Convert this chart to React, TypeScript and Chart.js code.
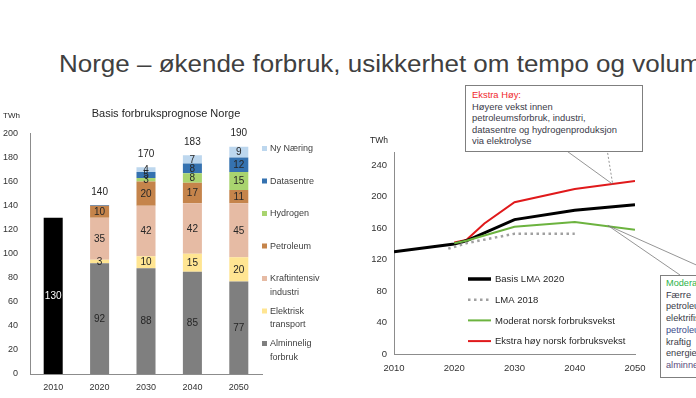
import React, { useEffect, useRef } from 'react';
import { Chart, registerables } from 'chart.js';

Chart.register(...registerables);

const FONT = '"Liberation Sans", Arial, sans-serif';

// ---------- Left chart: Basis forbruksprognose Norge ----------
const barYears = ['2010', '2020', '2030', '2040', '2050'];
const forbruk2010 = [130, null, null, null, null];
const alminneligForbruk = [null, 92, 88, 85, 77];
const elektriskTransport = [null, 3, 10, 15, 20];
const kraftintensivIndustri = [null, 35, 42, 42, 45];
const petroleum = [null, 10, 20, 17, 11];
const hydrogen = [null, null, 3, 8, 15];
const datasentre = [null, 0.6, 5, 8, 12];
const nyNaering = [null, null, 4, 7, 9];
const totalLabels = ['', '140', '170', '183', '190'];
const barTicks = [0, 20, 40, 60, 80, 100, 120, 140, 160, 180, 200];

const leftLegend = [
  { lines: ['Ny Næring'], color: '#bdd7ee' },
  { lines: ['Datasentre'], color: '#3572b0' },
  { lines: ['Hydrogen'], color: '#a9d46f' },
  { lines: ['Petroleum'], color: '#c5844b' },
  { lines: ['Kraftintensiv', 'industri'], color: '#e6bba4' },
  { lines: ['Elektrisk', 'transport'], color: '#ffe592' },
  { lines: ['Alminnelig', 'forbruk'], color: '#7f7f7f' },
];

// ---------- Right chart: scenarios ----------
const basisYears = [2010, 2020, 2022, 2030, 2040, 2050];
const basisLMA2020 = [130, 140, 144, 171, 183, 190];
const lma2018Years = [2019, 2022, 2030, 2040];
const lma2018 = [134, 141, 153, 153];
const moderatYears = [2020, 2022, 2030, 2040, 2050];
const moderatVekst = [141, 144, 162, 168, 158];
const ekstraYears = [2020, 2022, 2025, 2030, 2040, 2050];
const ekstraHoyVekst = [142, 145, 166, 193, 210, 220];
const lineYTicks = [0, 40, 80, 120, 160, 200, 240];

const toPoints = (xs: number[], ys: number[]) => xs.map((x, i) => ({ x, y: ys[i] }));

const leftPlugin = {
  id: 'leftDeco',
  afterDatasetsDraw(chart: any) {
    const ctx = chart.ctx;
    const ys = chart.scales.y;
    const xs = chart.scales.x;
    ctx.save();
    ctx.font = `10px ${FONT}`;
    ctx.textAlign = 'center';
    ctx.textBaseline = 'middle';
    chart.data.datasets.forEach((ds: any, di: number) => {
      const meta = chart.getDatasetMeta(di);
      meta.data.forEach((el: any, i: number) => {
        const v = ds.data[i];
        if (v == null || v < 1) return;
        const p = el.getProps(['x', 'y', 'base'], true);
        ctx.fillStyle = di === 0 ? '#ffffff' : '#262626';
        ctx.fillText(String(v), p.x, (p.y + p.base) / 2 + 0.5);
      });
    });
    barYears.forEach((_, i) => {
      if (!totalLabels[i]) return;
      let sum = 0;
      chart.data.datasets.forEach((ds: any) => (sum += ds.data[i] ?? 0));
      ctx.fillStyle = '#262626';
      ctx.fillText(totalLabels[i], xs.getPixelForValue(i), ys.getPixelForValue(sum) - 13);
    });
    // chart title
    ctx.font = `11px ${FONT}`;
    ctx.fillStyle = '#262626';
    ctx.fillText('Basis forbruksprognose Norge', 166, 114);
    // unit
    ctx.font = `8px ${FONT}`;
    ctx.textAlign = 'left';
    ctx.fillText('TWh', 3, 116);
    // legend
    ctx.font = `9px ${FONT}`;
    leftLegend.forEach((item, i) => {
      const cy = 149 + i * 32.5;
      ctx.fillStyle = item.color;
      ctx.fillRect(262, cy - 3, 5, 5);
      ctx.fillStyle = '#404040';
      item.lines.forEach((t, li) => ctx.fillText(t, 270, cy + li * 13.5));
    });
    ctx.restore();
  },
};

const rightLegend = [
  { label: 'Basis LMA 2020', color: '#000000', width: 3.5, dash: [] as number[] },
  { label: 'LMA 2018', color: '#a0a0a0', width: 2.5, dash: [2.5, 3.5] },
  { label: 'Moderat norsk forbruksvekst', color: '#6cb33f', width: 2, dash: [] as number[] },
  { label: 'Ekstra høy norsk forbruksvekst', color: '#e0191b', width: 2, dash: [] as number[] },
];

const rightPlugin = {
  id: 'rightDeco',
  afterDatasetsDraw(chart: any) {
    const ctx = chart.ctx;
    const xs = chart.scales.x;
    const ys = chart.scales.y;
    ctx.save();
    // unit
    ctx.font = `8.5px ${FONT}`;
    ctx.fillStyle = '#262626';
    ctx.textAlign = 'right';
    ctx.textBaseline = 'middle';
    ctx.fillText('TWh', 388, 141);
    // legend
    ctx.textAlign = 'left';
    ctx.font = `9.5px ${FONT}`;
    rightLegend.forEach((item, i) => {
      const cy = 279 + i * 20.7;
      ctx.beginPath();
      ctx.strokeStyle = item.color;
      ctx.lineWidth = item.width;
      ctx.setLineDash(item.dash);
      ctx.moveTo(468, cy);
      ctx.lineTo(491, cy);
      ctx.stroke();
      ctx.setLineDash([]);
      ctx.fillStyle = '#262626';
      ctx.fillText(item.label, 495, cy + 0.5);
    });
    // callout leaders
    ctx.strokeStyle = '#7a7a7a';
    ctx.lineWidth = 0.8;
    const rx = xs.getPixelForValue(2046.3);
    const ry = ys.getPixelForValue(216);
    ctx.beginPath();
    ctx.moveTo(564, 149);
    ctx.lineTo(rx, ry);
    ctx.stroke();
    ctx.setLineDash([2, 2]);
    ctx.beginPath();
    ctx.moveTo(607, 149);
    ctx.lineTo(rx, ry);
    ctx.stroke();
    ctx.setLineDash([]);
    const gx = xs.getPixelForValue(2045.5);
    const gy = ys.getPixelForValue(163.5);
    ctx.beginPath();
    ctx.moveTo(gx, gy);
    ctx.lineTo(680, 275);
    ctx.moveTo(gx, gy);
    ctx.lineTo(gx + 150, gy + 67);
    ctx.stroke();
    ctx.restore();
  },
};

export default function App() {
  const leftRef = useRef<HTMLCanvasElement>(null);
  const rightRef = useRef<HTMLCanvasElement>(null);

  useEffect(() => {
    const tickFont = { family: FONT, size: 9 };
    const mk = (label: string, data: any[], color: string) => ({
      label,
      data,
      backgroundColor: color,
      borderWidth: 0,
      barPercentage: 0.41,
      categoryPercentage: 1,
    });
    const left = new Chart(leftRef.current as HTMLCanvasElement, {
      type: 'bar',
      data: {
        labels: barYears,
        datasets: [
          mk('2010', forbruk2010, '#000000'),
          mk('Alminnelig forbruk', alminneligForbruk, '#7f7f7f'),
          mk('Elektrisk transport', elektriskTransport, '#ffe592'),
          mk('Kraftintensiv industri', kraftintensivIndustri, '#e6bba4'),
          mk('Petroleum', petroleum, '#c5844b'),
          mk('Hydrogen', hydrogen, '#a9d46f'),
          mk('Datasentre', datasentre, '#3572b0'),
          mk('Ny Næring', nyNaering, '#bdd7ee'),
        ],
      },
      options: {
        responsive: false,
        animation: false,
        devicePixelRatio: 1,
        layout: { padding: { left: 0, top: 133.5, right: 434, bottom: 0 } },
        plugins: { legend: { display: false }, tooltip: { enabled: false }, title: { display: false } },
        scales: {
          x: {
            stacked: true,
            grid: { display: false, drawTicks: false },
            border: { color: '#8c8c8c' },
            ticks: { font: tickFont, color: '#333333', padding: 8 },
            afterFit: (s: any) => { s.height = 24; },
          },
          y: {
            stacked: true,
            min: 0,
            max: 200,
            afterBuildTicks: (s: any) => { s.ticks = barTicks.map((v) => ({ value: v })); },
            grid: { display: false, drawTicks: false },
            border: { color: '#8c8c8c' },
            ticks: { font: tickFont, color: '#333333', padding: 12 },
            afterFit: (s: any) => { s.width = 30; },
          },
        },
      } as any,
      plugins: [leftPlugin],
    });

    const lineDs = (label: string, pts: any[], color: string, width: number, dash: number[] = []) => ({
      label,
      data: pts,
      borderColor: color,
      backgroundColor: color,
      borderWidth: width,
      borderDash: dash,
      pointRadius: 0,
      tension: 0,
      fill: false,
    });
    const right = new Chart(rightRef.current as HTMLCanvasElement, {
      type: 'line',
      data: {
        datasets: [
          lineDs('LMA 2018', toPoints(lma2018Years, lma2018), '#a0a0a0', 2.5, [2.5, 3.5]),
          lineDs('Moderat norsk forbruksvekst', toPoints(moderatYears, moderatVekst), '#6cb33f', 2),
          lineDs('Basis LMA 2020', toPoints(basisYears, basisLMA2020), '#000000', 3),
          lineDs('Ekstra høy norsk forbruksvekst', toPoints(ekstraYears, ekstraHoyVekst), '#e0191b', 2),
        ],
      },
      options: {
        responsive: false,
        animation: false,
        devicePixelRatio: 1,
        layout: { padding: { left: 354, top: 152, right: 61, bottom: 0 } },
        plugins: { legend: { display: false }, tooltip: { enabled: false }, title: { display: false } },
        scales: {
          x: {
            type: 'linear',
            min: 2010,
            max: 2050,
            afterBuildTicks: (s: any) => { s.ticks = [2010, 2020, 2030, 2040, 2050].map((v) => ({ value: v })); },
            grid: { display: false, drawTicks: false },
            border: { color: '#8c8c8c' },
            ticks: { font: { family: FONT, size: 9.5 }, color: '#333333', padding: 9, callback: (v: any) => String(v) },
            afterFit: (s: any) => { s.height = 44; },
          },
          y: {
            min: 0,
            max: 257,
            afterBuildTicks: (s: any) => { s.ticks = lineYTicks.map((v) => ({ value: v })); },
            grid: { display: false, drawTicks: false },
            border: { color: '#8c8c8c' },
            ticks: { font: { family: FONT, size: 9.5 }, color: '#333333', padding: 7 },
            afterFit: (s: any) => { s.width = 40; },
          },
        },
      } as any,
      plugins: [rightPlugin],
    });

    return () => {
      left.destroy();
      right.destroy();
    };
  }, []);

  const boxText: React.CSSProperties = { fontFamily: FONT, whiteSpace: 'nowrap' };

  return (
    <div style={{ position: 'fixed', left: 0, top: 0, width: 696, height: 398, overflow: 'hidden', background: '#ffffff' }}>
      <div
        style={{
          position: 'absolute', left: 59, top: 53.4, fontFamily: FONT, fontSize: 23.3, lineHeight: '23.3px',
          color: '#404040', whiteSpace: 'nowrap', transform: 'scaleX(1.115)', transformOrigin: 'left top',
        }}
      >
        Norge – økende forbruk, usikkerhet om tempo og volum
      </div>
      <canvas ref={leftRef} width={696} height={398} style={{ position: 'absolute', left: 0, top: 0, width: 696, height: 398 }} />
      <canvas ref={rightRef} width={696} height={398} style={{ position: 'absolute', left: 0, top: 0, width: 696, height: 398 }} />
      <div
        style={{
          ...boxText, position: 'absolute', left: 465, top: 85, width: 170, height: 62, border: '1px solid #7f7f7f',
          background: '#ffffff', fontSize: 9.4, lineHeight: '11.6px', padding: '3px 0 0 6px', boxSizing: 'content-box',
          color: '#3a3a48',
        }}
      >
        <div style={{ color: '#f0282d' }}>Ekstra Høy:</div>
        <div>Høyere vekst innen</div>
        <div>petroleumsforbruk, industri,</div>
        <div>datasentre og hydrogenproduksjon</div>
        <div>via elektrolyse</div>
      </div>
      <div
        style={{
          ...boxText, position: 'absolute', left: 660, top: 275, width: 140, height: 99, border: '1px solid #7f7f7f',
          background: '#ffffff', fontSize: 9.2, lineHeight: '11.7px', padding: '2px 0 0 5px', boxSizing: 'content-box',
          color: '#3a3a48',
        }}
      >
        <div style={{ color: '#2db34a' }}>Moderat:</div>
        <div>Færre</div>
        <div>petroleumsprosjekter,</div>
        <div>elektrifisering av</div>
        <div style={{ color: '#3b4c8c' }}>petroleum,</div>
        <div>kraftig</div>
        <div>energieffektivisering i</div>
        <div style={{ color: '#5b4c7c' }}>alminnelig forbruk</div>
      </div>
    </div>
  );
}
